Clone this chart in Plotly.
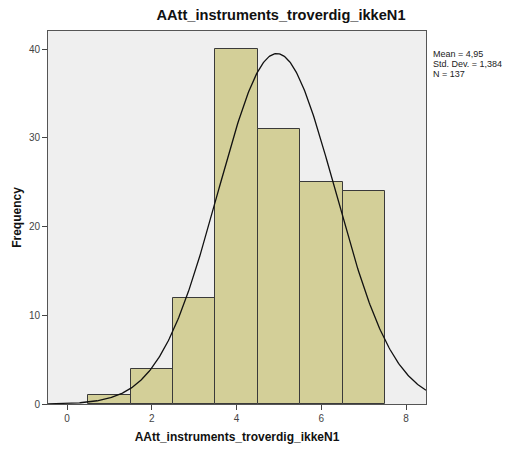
import numpy as np
import plotly.graph_objects as go

bin_centers = [1, 2, 3, 4, 5, 6, 7]
frequencies = [1, 4, 12, 40, 31, 25, 24]
mean_val = 4.95
std_val = 1.384
n_val = 137
bin_width = 1.0
x_ticks = [0, 2, 4, 6, 8]
y_ticks = [0, 10, 20, 30, 40]
title = "AAtt_instruments_troverdig_ikkeN1"
stats_lines = ["Mean = 4,95", "Std. Dev. = 1,384", "N = 137"]

xs = np.linspace(-0.45, 8.47, 400)
ys = n_val * bin_width / (std_val * np.sqrt(2 * np.pi)) * np.exp(-0.5 * ((xs - mean_val) / std_val) ** 2)

fig = go.Figure()
fig.add_trace(go.Bar(x=bin_centers, y=frequencies, width=bin_width,
                     marker=dict(color="#D3CF98", line=dict(color="#3a3a3a", width=1)),
                     showlegend=False, hoverinfo="skip"))
fig.add_trace(go.Scatter(x=xs, y=ys, mode="lines", line=dict(color="#111111", width=1.3),
                         showlegend=False, hoverinfo="skip"))

font = "Liberation Sans, Arial, sans-serif"
fig.update_layout(
    width=510, height=450,
    margin=dict(l=48, r=84, t=31, b=46, autoexpand=False),
    paper_bgcolor="white", plot_bgcolor="#EFEFEF",
    font=dict(family=font, size=10, color="#222"),
    title=dict(text="<b>" + title + "</b>", x=0.551, xanchor="center", y=0.978, yanchor="top",
               font=dict(size=14.6, color="#111")),
    bargap=0,
)
fig.update_xaxes(range=[-0.45, 8.47], tickvals=x_ticks, ticks="outside", ticklen=5,
                 tickcolor="#444", showgrid=False, zeroline=False, automargin=False,
                 showline=True, linecolor="#555", linewidth=1, mirror=True,
                 title=dict(text="<b>AAtt_instruments_troverdig_ikkeN1</b>", font=dict(size=12, color="#111"), standoff=9),
                 tickfont=dict(size=10, color="#444"))
fig.update_yaxes(range=[0, 42.03], tickvals=y_ticks, ticks="outside", ticklen=5,
                 tickcolor="#444", showgrid=False, zeroline=False, automargin=False,
                 showline=True, linecolor="#555", linewidth=1, mirror=True,
                 title=dict(text="<b>Frequency</b>", font=dict(size=12, color="#111"), standoff=4),
                 tickfont=dict(size=10, color="#444"))

for i, line in enumerate(stats_lines):
    fig.add_annotation(xref="paper", yref="paper", x=1.012, y=(450 - 46 - (54 + 10 * i)) / 373,
                       xanchor="left", yanchor="middle", align="left", showarrow=False,
                       text=line, font=dict(size=9, color="#222", family=font))

fig.write_html("out.html")
